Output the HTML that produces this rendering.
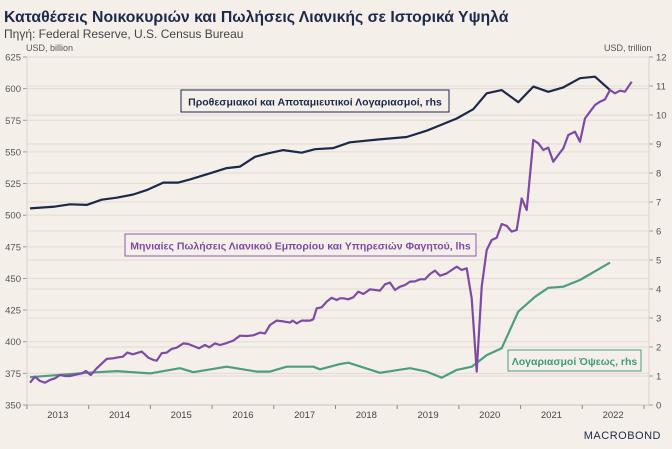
<!DOCTYPE html>
<html><head><meta charset="utf-8">
<style>
html,body{margin:0;padding:0;background:#f5efea;}
body{width:672px;height:444px;overflow:hidden;font-family:"Liberation Sans",sans-serif;}
svg text{font-family:"Liberation Sans","DejaVu Sans",sans-serif;}
</style></head>
<body>
<svg id="chart" width="672" height="444" xmlns="http://www.w3.org/2000/svg">
<rect width="672" height="444" fill="#f5efea"/>
<text x="4" y="22" font-size="15.8" font-weight="bold" fill="#1b2a4a">Καταθέσεις Νοικοκυριών και Πωλήσεις Λιανικής σε Ιστορικά Υψηλά</text>
<text x="4" y="38" font-size="12" fill="#444">Πηγή: Federal Reserve, U.S. Census Bureau</text>
<text x="26" y="51" font-size="9" fill="#555">USD, billion</text>
<text x="604" y="51" font-size="9" fill="#555">USD, trillion</text>
<g id="grid"></g>
<g id="axes"></g>
<g id="series"></g>
<g>
<rect x="181" y="90" width="268" height="22" fill="#f5efea" stroke="#1b2a4a" stroke-width="1"/>
<text x="315" y="105.5" text-anchor="middle" font-size="10.5" font-weight="bold" fill="#1b2a4a">Προθεσμιακοί και Αποταμιευτικοί Λογαριασμοί, rhs</text>
</g>
<g>
<rect x="125" y="234" width="351" height="22" fill="#f5efea" stroke="#8a5bb0" stroke-width="1"/>
<text x="300.5" y="249.5" text-anchor="middle" font-size="10.5" font-weight="bold" fill="#7d4ba3">Μηνιαίες Πωλήσεις Λιανικού Εμπορίου και Υπηρεσιών Φαγητού, lhs</text>
</g>
<g>
<rect x="508" y="350" width="133" height="21" fill="#f5efea" stroke="#4c9e80" stroke-width="1"/>
<text x="574.5" y="365" text-anchor="middle" font-size="10.5" font-weight="bold" fill="#3f9a78">Λογαριασμοί Όψεως, rhs</text>
</g>
<text x="661" y="439" text-anchor="end" font-size="11" fill="#1b2a4a" letter-spacing="0.5">MACROBOND</text>
</svg>
<script>
// Retail sales (lhs, USD billion): years since 2013 and values
const retailT = [.049,.130,.211,.292,.373,.454,.535,.616,.697,.805,.887,.956,1.032,1.130,1.292,1.399,1.480,1.552,1.626,1.714,1.860,1.967,2.048,2.102,2.183,2.264,2.345,2.426,2.533,2.614,2.695,2.788,2.885,2.955,3.047,3.128,3.209,3.344,3.452,3.561,3.668,3.776,3.857,3.938,4.047,4.154,4.263,4.306,4.371,4.452,4.587,4.640,4.695,4.776,4.857,4.938,5.019,5.073,5.127,5.207,5.289,5.370,5.451,5.559,5.721,5.802,5.883,5.964,6.045,6.126,6.207,6.288,6.370,6.451,6.532,6.613,6.694,6.802,6.883,6.964,7.045,7.126,7.207,7.288,7.369,7.450,7.531,7.612,7.693,7.774,7.855,7.936,8.018,8.099,8.206,8.287,8.368,8.449,8.530,8.611,8.692,8.773,8.882,8.963,9.044,9.125,9.206,9.287,9.368,9.449,9.530,9.611,9.692,9.800];
const retailV = [367.6,372.4,369.0,367.6,369.8,371.1,373.7,372.9,372.9,374.2,375.0,376.9,373.7,379.0,386.4,386.9,387.7,388.2,391.4,390.1,392.2,387.4,385.6,385.0,390.9,391.4,394.3,395.3,398.7,398.2,396.6,394.8,397.4,395.6,398.7,397.4,398.5,400.9,404.8,404.5,405.1,407.2,406.6,413.2,416.7,416.1,415.1,416.7,414.5,416.7,416.7,417.7,426.4,427.2,431.7,434.8,433.0,434.3,434.3,433.5,435.1,439.6,437.7,441.4,440.4,445.4,446.7,440.9,443.5,444.8,447.5,447.7,449.3,449.3,453.5,456.2,452.2,454.0,456.7,459.3,456.7,458.0,434.3,376.4,443.5,472.5,480.4,482.2,493.0,491.5,487.0,488.3,513.3,504.1,559.4,556.8,551.5,553.4,542.3,547.6,552.8,563.4,566.0,558.1,576.5,581.8,587.1,589.7,591.5,598.9,596.3,598.4,597.6,605.5];
// Time & savings deposits (rhs, USD trillion)
const timeT = [.049,.454,.697,.968,1.211,1.454,1.723,1.940,2.209,2.452,2.642,2.966,3.237,3.452,3.695,3.911,4.154,4.452,4.668,4.964,5.233,5.668,6.154,6.478,6.964,7.233,7.450,7.694,7.963,8.206,8.449,8.692,8.963,9.206,9.449];
const timeV = [6.78,6.84,6.92,6.90,7.08,7.15,7.26,7.41,7.67,7.67,7.78,7.99,8.17,8.22,8.56,8.68,8.79,8.70,8.82,8.86,9.06,9.15,9.24,9.46,9.88,10.2,10.75,10.86,10.44,10.98,10.80,10.95,11.27,11.32,10.86];
// Demand deposits (rhs, USD trillion)
const demandT = [.049,.968,1.454,1.994,2.480,2.695,3.237,3.723,3.938,4.209,4.640,4.749,5.073,5.207,5.721,6.207,6.478,6.721,6.964,7.207,7.450,7.694,7.963,8.233,8.449,8.692,8.963,9.449];
const demandV = [0.96,1.11,1.17,1.09,1.27,1.13,1.32,1.15,1.15,1.32,1.32,1.23,1.41,1.46,1.11,1.27,1.15,0.94,1.21,1.32,1.72,1.96,3.22,3.73,4.04,4.08,4.31,4.91];
const leftTicks = [350,375,400,425,450,475,500,525,550,575,600,625];
const rightTicks = [0,1,2,3,4,5,6,7,8,9,10,11,12];
const yearLabels = ["2013","2014","2015","2016","2017","2018","2019","2020","2021","2022"];

const X0=27, X1=644, YT=57, YB=405, PW=X1-X0;
const xS = t => X0 + t*(PW/10);
const yL = v => YB - (v-350)/(625-350)*(YB-YT);
const yR = v => YB - v/12*(YB-YT);
const NS="http://www.w3.org/2000/svg";
function mk(tag, attrs, parent){const e=document.createElementNS(NS,tag);for(const k in attrs)e.setAttribute(k,attrs[k]);parent.appendChild(e);return e;}
const grid=document.getElementById('grid'), axes=document.getElementById('axes'), series=document.getElementById('series');

leftTicks.forEach(v=>{
  if(v>350){const l=mk('line',{x1:X0,x2:649,y1:yL(v),y2:yL(v),stroke:'#e4dad2','stroke-width':1},grid);
  
  }
  mk('line',{x1:X0-4,x2:X0,y1:yL(v),y2:yL(v),stroke:'#999'},axes);
  const t=mk('text',{x:X0-6,y:yL(v)+3.5,'text-anchor':'end','font-size':9.5,fill:'#555'},axes);
  t.textContent=v;
  
  
});
rightTicks.forEach(v=>{
  if(v>0&&v<12){const l=mk('line',{x1:X0,x2:649,y1:yR(v),y2:yR(v),stroke:'#e4dad2','stroke-width':1},grid);
  
  }
  mk('line',{x1:649,x2:653,y1:yR(v),y2:yR(v),stroke:'#999'},axes);
  const t=mk('text',{x:656,y:yR(v)+3.5,'font-size':9.5,fill:'#555'},axes);
  t.textContent=v;
  
  
});
mk('line',{x1:X0,x2:X0,y1:YT,y2:YB,stroke:'#ddd2ca'},axes);
mk('line',{x1:649,x2:649,y1:YT,y2:YB,stroke:'#ddd2ca'},axes);
mk('line',{x1:X0,x2:649,y1:YB,y2:YB,stroke:'#c9bfb8'},axes);
for(let i=0;i<=10;i++){mk('line',{x1:xS(i),x2:xS(i),y1:YB,y2:YB+4,stroke:'#888'},axes);}
yearLabels.forEach((y,i)=>{
  const t=mk('text',{x:xS(i+0.5),y:418,'text-anchor':'middle','font-size':9.5,fill:'#444'},axes);
  t.textContent=y;
  
  
});
function line(T,V,yf,color,name){
  const d=T.map((t,i)=>(i?'L':'M')+xS(t).toFixed(1)+','+yf(V[i]).toFixed(1)).join('');
  const p=mk('path',{d:d,fill:'none',stroke:color,'stroke-width':2.2,'stroke-linejoin':'round'},series);
  
  
}
line(demandT,demandV,yR,'#4c9e80','demand-deposits-line');
line(timeT,timeV,yR,'#1b2a4a','time-deposits-line');
line(retailT,retailV,yL,'#7d4ba3','retail-sales-line');
</script>
</body></html>
